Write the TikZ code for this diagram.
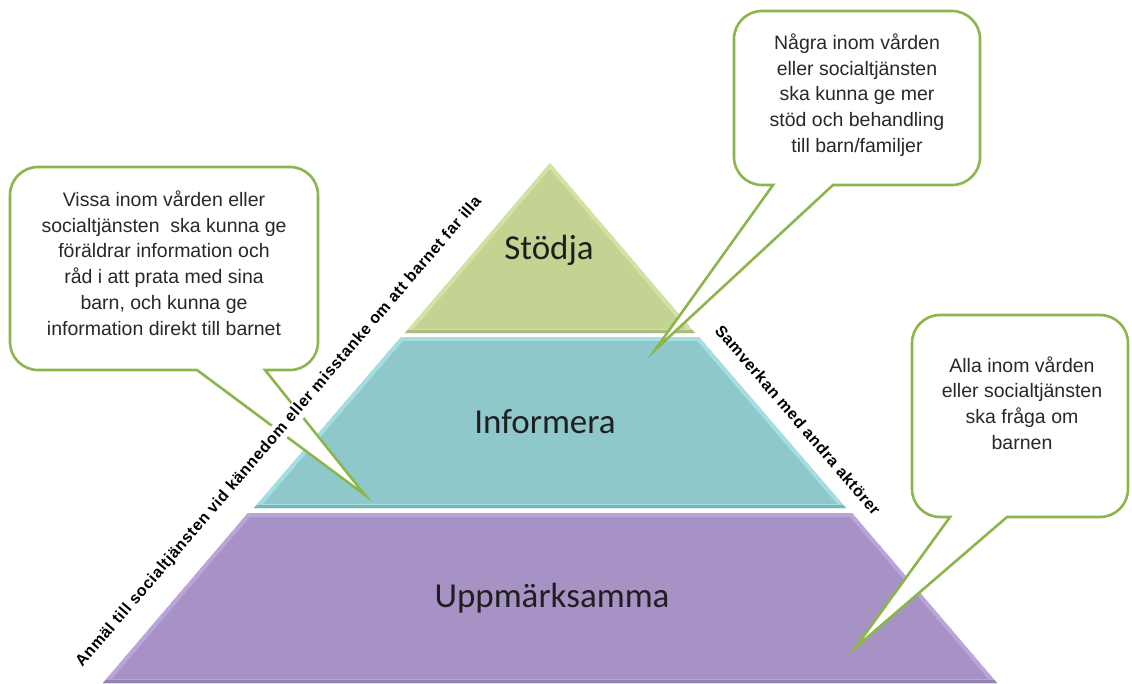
\documentclass[tikz,border=0pt]{standalone}
\usepackage{fontspec}
\setmainfont{Liberation Sans}
\newfontfamily\calibri{Carlito}
\newfontfamily\sidefont[LetterSpace=4]{Liberation Sans}
\usetikzlibrary{positioning, calc}

\definecolor{stodgreen}{RGB}{194,211,146}
\definecolor{stodlight}{RGB}{210,226,162}
\definecolor{stoddark}{RGB}{172,188,128}
\definecolor{infoteal}{RGB}{143,200,202}
\definecolor{infolight}{RGB}{164,222,224}
\definecolor{infodark}{RGB}{126,180,182}
\definecolor{uppurple}{RGB}{166,146,196}
\definecolor{uplight}{RGB}{186,164,218}
\definecolor{updark}{RGB}{150,131,178}
\definecolor{bubblegreen}{RGB}{140,182,76}
\definecolor{bubbletext}{RGB}{40,40,40}

\begin{document}
\begin{tikzpicture}[x=1pt, y=-1pt,
  level/.style={font=\calibri\fontsize{35}{40}\selectfont, text=black!88},
  bubble/.style={draw=bubblegreen, line width=2.6pt, fill=white, rounded corners=28pt},
  bubbletxt/.style={align=center, text=bubbletext, font=\fontsize{19.5}{25.8}\selectfont},
  edgelabel/.style={font=\sidefont\bfseries\fontsize{16}{18}\selectfont, inner sep=2pt}]
\useasboundingbox (0,0) rectangle (1132,683);

% pyramid corners
\coordinate (apex) at (550,163);
\coordinate (s1) at (695,333);  \coordinate (s2) at (405,333);
\coordinate (i1) at (401,337);  \coordinate (i2) at (699,337);
\coordinate (i3) at (846,508);  \coordinate (i4) at (254,508);
\coordinate (u1) at (248,513);  \coordinate (u2) at (852,513);
\coordinate (u3) at (997,683);  \coordinate (u4) at (103,683);

% Stödja
\begin{scope}
  \clip (apex) -- (s1) -- (s2) -- cycle;
  \fill[stodgreen] (apex) -- (s1) -- (s2) -- cycle;
  \draw[stodlight, line width=8pt] (apex) -- (s1) -- (s2) -- cycle;
  \draw[stoddark, line width=7pt] (s1) -- (s2);
\end{scope}
% Informera
\begin{scope}
  \clip (i1) -- (i2) -- (i3) -- (i4) -- cycle;
  \fill[infoteal] (i1) -- (i2) -- (i3) -- (i4) -- cycle;
  \draw[infolight, line width=8pt] (i1) -- (i2) -- (i3) -- (i4) -- cycle;
  \draw[infodark, line width=7pt] (i3) -- (i4);
\end{scope}
% Uppmärksamma
\begin{scope}
  \clip (u1) -- (u2) -- (u3) -- (u4) -- cycle;
  \fill[uppurple] (u1) -- (u2) -- (u3) -- (u4) -- cycle;
  \draw[uplight, line width=8pt] (u1) -- (u2) -- (u3) -- (u4) -- cycle;
  \draw[updark, line width=7pt] (u3) -- (u4);
\end{scope}

\node[level] (stodja) at (549,250) {Stödja};
\node[level] (informera) at (545,422) {Informera};
\node[level] (uppmarksamma) at (552,598) {Uppmärksamma};

% bubbles
\coordinate (vissatip) at (365,495);
\coordinate (nagratip) at (655,350);
\coordinate (allatip) at (855,648);

\draw[bubble] (100,370) -- (10,370) -- (10,167) -- (318,167) -- (318,370) [sharp corners]
  -- (265,370) -- (vissatip) -- (197,370) -- cycle;
\draw[bubble] (900,185) -- (980,185) -- (980,11) -- (734,11) -- (734,185) [sharp corners]
  -- (773,185) -- (nagratip) -- (833,185) -- cycle;
\draw[bubble] (1060,517) -- (1128,517) -- (1128,315) -- (912,315) -- (912,517) [sharp corners]
  -- (950,517) -- (allatip) -- (1007,517) -- cycle;

\node[bubbletxt] (vissa) at (164,263) {Vissa inom vården eller\\socialtjänsten \ ska kunna ge\\föräldrar information och\\råd i att prata med sina\\barn, och kunna ge\\information direkt till barnet};
\node[bubbletxt] (nagra) at (857,95) {Några inom vården\\eller socialtjänsten\\ska kunna ge mer\\stöd och behandling\\till barn/familjer};
\node[bubbletxt] (alla) at (1022,403) {Alla inom vården\\eller socialtjänsten\\ska fråga om\\barnen};

% side labels
\node[edgelabel, fill=white, rotate=49.4] (anmal) at (279,432)
  {Anmäl till socialtjänsten vid kännedom eller misstanke om att barnet far illa};
\node[edgelabel, rotate=-49.4] (samverkan) at (798,420) {Samverkan med andra aktörer};
\end{tikzpicture}
\end{document}
